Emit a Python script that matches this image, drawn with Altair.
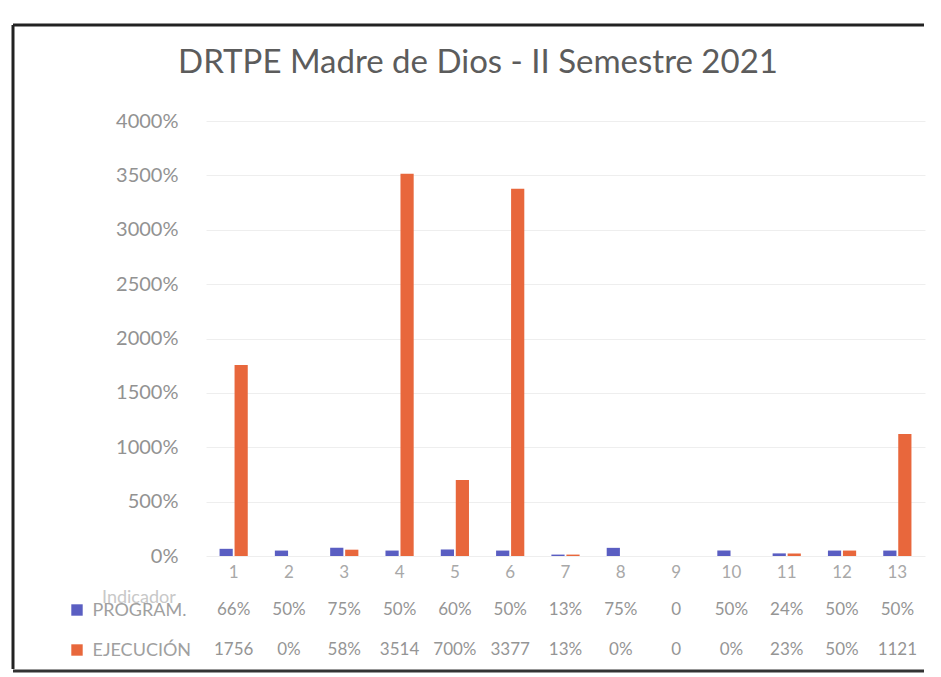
import altair as alt
import pandas as pd

categories = [str(i) for i in range(1, 14)]
series = ["PROGRAM.", "EJECUCIÓN"]
program = [66, 50, 75, 50, 60, 50, 13, 75, 0, 50, 24, 50, 50]
ejecucion = [1756, 0, 58, 3514, 700, 3377, 13, 0, 0, 0, 23, 50, 1121]
program_labels = ["66%", "50%", "75%", "50%", "60%", "50%", "13%", "75%", "0", "50%", "24%", "50%", "50%"]
ejecucion_labels = ["1756", "0%", "58%", "3514", "700%", "3377", "13%", "0%", "0", "0%", "23%", "50%", "1121"]
y_ticks = [0, 500, 1000, 1500, 2000, 2500, 3000, 3500, 4000]
colors = ["#5a5ec2", "#e8673c"]
title_text = "DRTPE Madre de Dios - II Semestre 2021"

FONT = "Lato"
W, H = 719, 435

rows = []
for s, vals, labs in [(series[0], program, program_labels), (series[1], ejecucion, ejecucion_labels)]:
    for c, v, l in zip(categories, vals, labs):
        rows.append({"cat": c, "series": s, "value": v, "label": l})
df = pd.DataFrame(rows)

xscale = alt.Scale(domain=categories, paddingInner=0.49, paddingOuter=0.245)
cscale = alt.Scale(domain=series, range=colors)

bars = alt.Chart(df).mark_bar().encode(
    x=alt.X("cat:O", sort=categories, scale=xscale,
            axis=alt.Axis(title=None, labelAngle=0, domain=False, ticks=False,
                          labelFont=FONT, labelFontSize=17, labelColor="#a8a8a8",
                          labelPadding=8)),
    xOffset=alt.XOffset("series:N", sort=series, scale=alt.Scale(domain=series, paddingInner=0.12)),
    y=alt.Y("value:Q", scale=alt.Scale(domain=[0, 4000]),
            axis=alt.Axis(values=y_ticks, labelExpr="datum.value + '%'", title=None,
                          domain=False, ticks=False, grid=True, gridColor="#eeeeee",
                          labelFont=FONT, labelFontSize=20, labelColor="#929292",
                          labelPadding=28)),
    color=alt.Color("series:N", scale=cscale, legend=None),
)

frame_df = pd.DataFrame({"k": [0]})
frame_top = alt.Chart(frame_df).mark_rule(color="#222222", strokeWidth=3).encode(
    x=alt.value(-193), x2=alt.value(718), y=alt.value(-96))
frame_left = alt.Chart(frame_df).mark_rule(color="#222222", strokeWidth=3).encode(
    x=alt.value(-193), y=alt.value(-96), y2=alt.value(548))
title = alt.Chart(frame_df).mark_text(text=title_text, font=FONT, fontSize=33,
                                      color="#5c5c5c", align="center", baseline="middle").encode(
    x=alt.value(272), y=alt.value(-58))

main = alt.layer(frame_top, frame_left, title, bars).properties(width=W, height=H)

table_text = alt.Chart(df).mark_text(font=FONT, fontSize=17, color="#959595").encode(
    x=alt.X("cat:O", sort=categories, scale=xscale, axis=None),
    y=alt.Y("series:N", sort=series, scale=alt.Scale(domain=series),
            axis=alt.Axis(title=None, domain=False, ticks=False, labelAlign="left",
                          labelPadding=114, labelFont=FONT, labelFontSize=18,
                          labelColor="#a0a0a0")),
    text="label:N",
)
key_df = pd.DataFrame({"series": series})
keys = alt.Chart(key_df).mark_point(shape="square", filled=True, size=130, opacity=1).encode(
    x=alt.value(-129),
    y=alt.Y("series:N", sort=series, scale=alt.Scale(domain=series)),
    color=alt.Color("series:N", scale=cscale, legend=None),
)
ind = alt.Chart(frame_df).mark_text(text="Indicador", font=FONT, fontSize=18,
                                    color="#c8c8c8", align="left").encode(
    x=alt.value(-104), y=alt.value(8))
frame_bottom = alt.Chart(frame_df).mark_rule(color="#333333", strokeWidth=3).encode(
    x=alt.value(-193), x2=alt.value(718), y=alt.value(81))

table = alt.layer(table_text, keys, ind, frame_bottom).properties(width=W, height=80)

chart = alt.vconcat(main, table, spacing=34, bounds="flush").properties(
    padding={"left": 3, "top": 15, "right": 5, "bottom": 2},
).configure_view(stroke=None)

chart.save("out.html", embed_options={"renderer": "svg", "actions": False})
